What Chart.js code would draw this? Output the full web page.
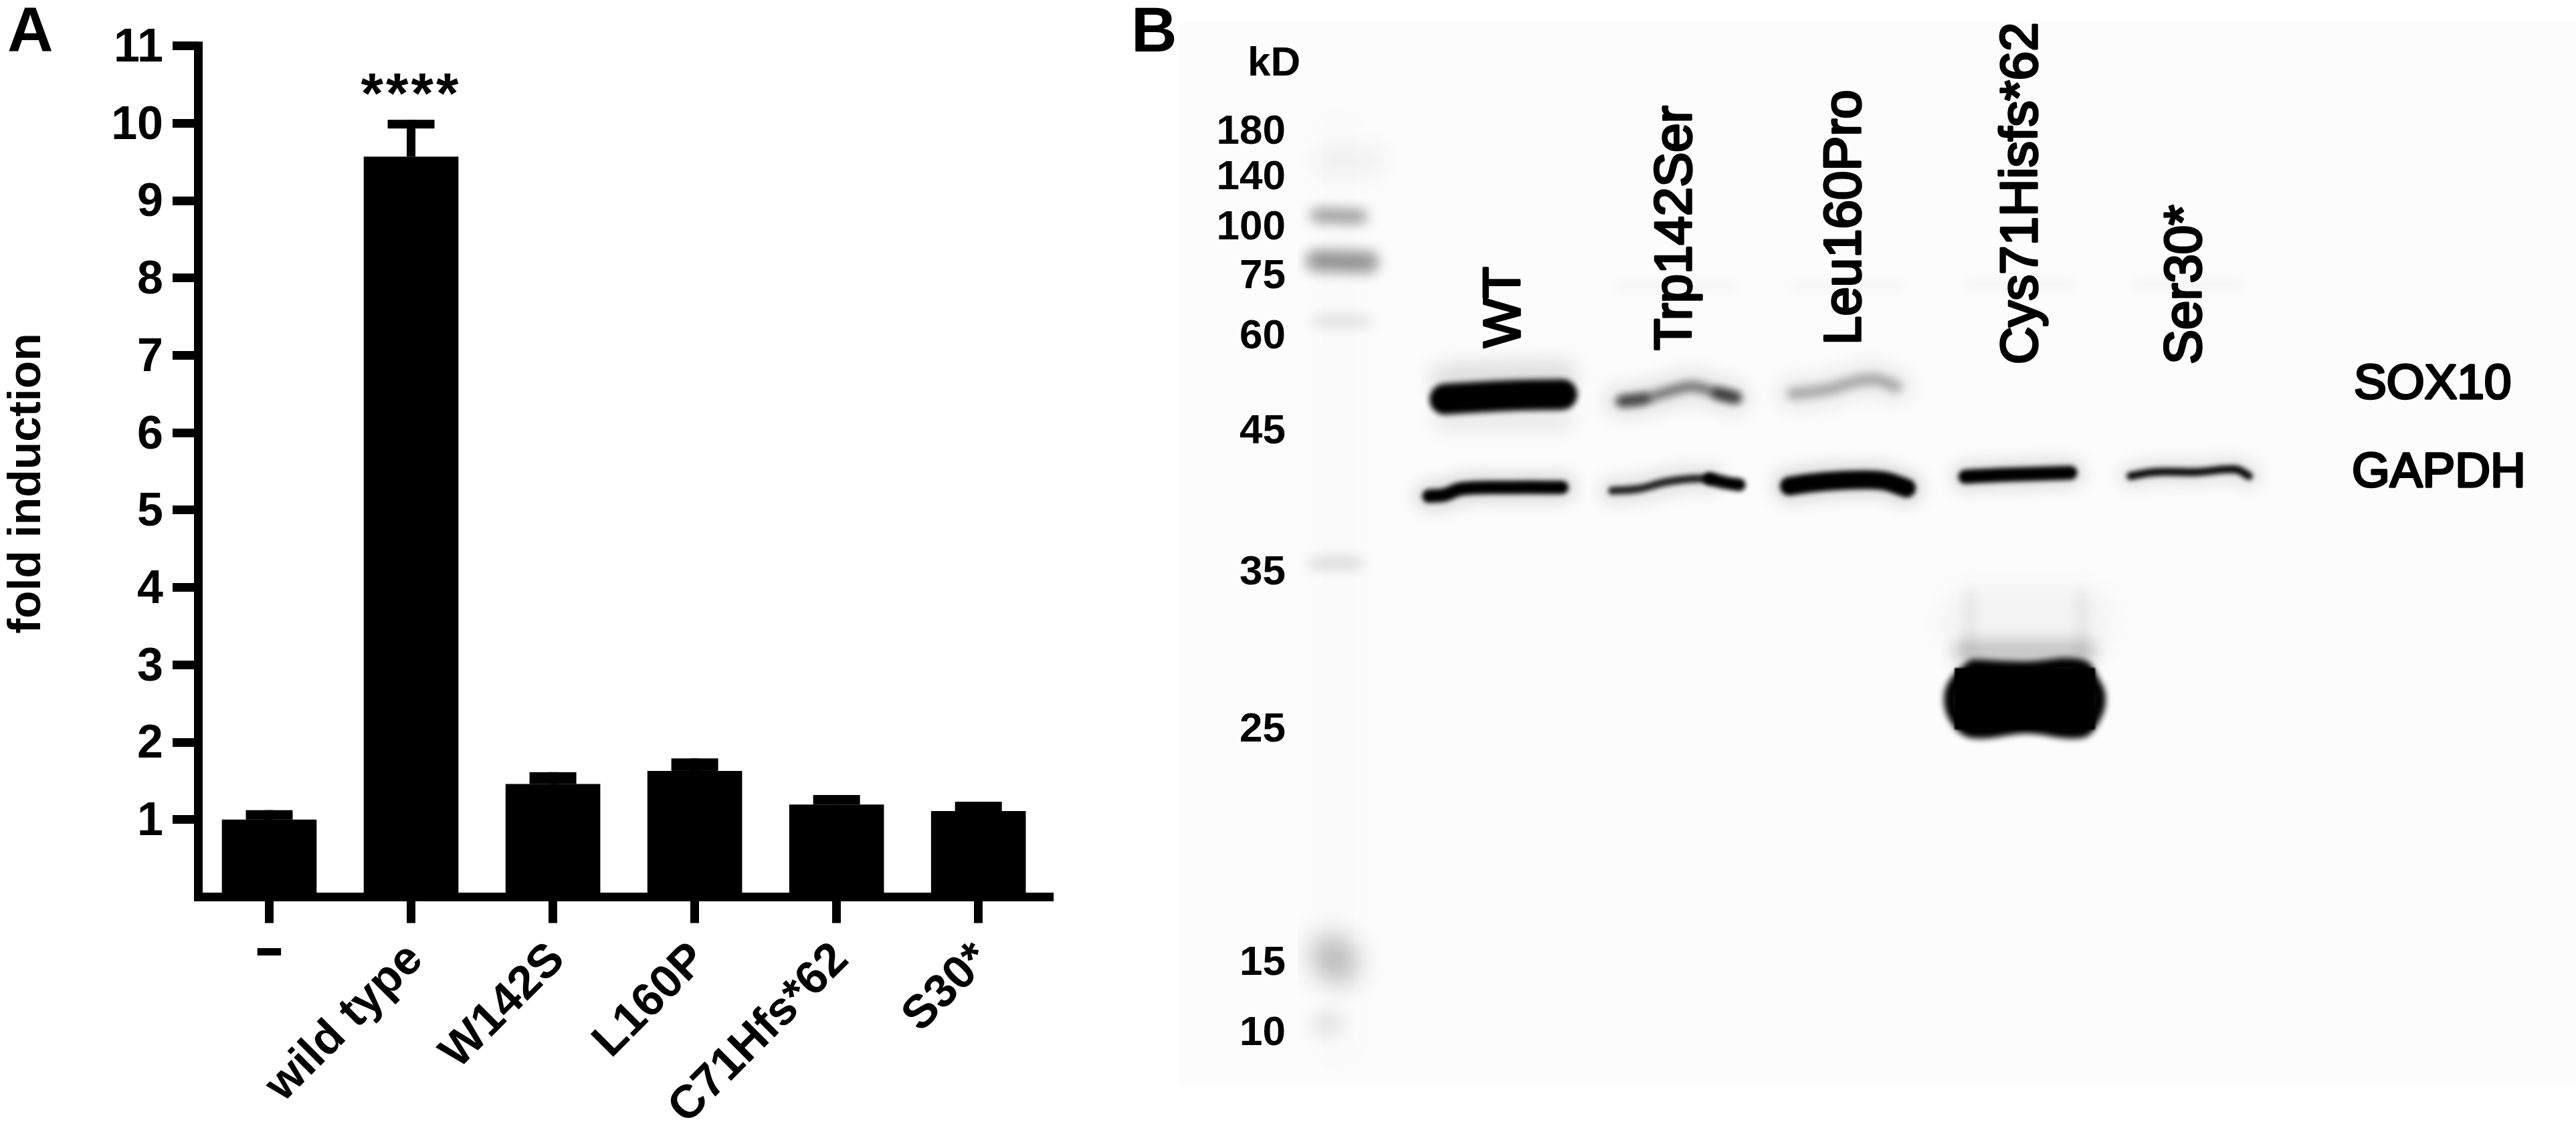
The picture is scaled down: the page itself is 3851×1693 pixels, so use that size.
<!DOCTYPE html>
<html>
<head>
<meta charset="utf-8">
<title>SOX10 reporter assay and western blot</title>
<script src="https://cdn.jsdelivr.net/npm/chart.js@4"></script>
<style>
  html, body { margin: 0; padding: 0; background: #fff; }
  #page { position: relative; width: 3851px; height: 1693px; overflow: hidden; }
  canvas { position: absolute; top: 0; }
  #chartA { left: 0; }
  #chartB { left: 1650px; }
  #blot { position: absolute; left: 1762px; top: 33px; width: 2089px; height: 1590px; background: #fcfcfc; }
</style>
</head>
<body>
<div id="page">
  <div id="blot"></div>
  <canvas id="chartA" width="1650" height="1693"></canvas>
  <canvas id="chartB" width="2201" height="1693"></canvas>
</div>
<script>
// panel A
const categories = ["-", "wild type", "W142S", "L160P", "C71Hfs*62", "S30*"];
const foldInduction = [1.0, 9.57, 1.46, 1.63, 1.195, 1.11];
const foldError = [0.066, 0.42, 0.097, 0.105, 0.067, 0.065];
const significance = ["", "****", "", "", "", ""];

// panel B, marker ladder: kD label and distance run down the blot
const kdLabels = ["180", "140", "100", "75", "60", "45", "35", "25", "15", "10"];
const kdDistance = [194, 262, 337, 410, 500, 642, 853, 1088, 1437, 1542];
const laneLabels = ["WT", "Trp142Ser", "Leu160Pro", "Cys71Hisfs*62", "Ser30*"];
const laneLabelX = [2272, 2528, 2781, 3045, 3290];
const laneLabelStart = [520, 524, 516, 545, 545];
const proteinLabels = ["SOX10", "GAPDH"];

// bands
const sox10WtX = [2160, 2250, 2335];
const sox10WtY = [597, 592, 590];
const sox10TrpX = [2422, 2455, 2500, 2530, 2560, 2592];
const sox10TrpY = [600, 597, 584, 578, 585, 594];
const sox10TrpLeftX = [2428, 2458];
const sox10TrpLeftY = [600, 596];
const sox10TrpRightX = [2568, 2596];
const sox10TrpRightY = [589, 595];
const sox10LeuX = [2680, 2730, 2765, 2800, 2835];
const sox10LeuY = [589, 583, 573, 567, 578];
const gapdhWtX = [2136, 2160, 2185, 2260, 2335];
const gapdhWtY = [742, 740, 731, 729, 729];
const gapdhTrpX = [2410, 2450, 2490, 2530, 2560];
const gapdhTrpY = [734, 731, 721, 716, 716];
const gapdhTrpEndX = [2555, 2580, 2600];
const gapdhTrpEndY = [716, 722, 725];
const gapdhLeuX = [2675, 2710, 2765, 2815, 2850];
const gapdhLeuY = [727, 722, 718, 719, 730];
const gapdhCysX = [2938, 3000, 3095];
const gapdhCysY = [713, 710, 707];
const gapdhSerX = [3185, 3222, 3285, 3342, 3362];
const gapdhSerY = [712, 706, 706, 702, 712];
// the truncated protein band is wide enough to be traced round its edge
const truncatedX = [2950, 3030, 3110, 3128, 3137, 3128, 3110, 3030, 2950, 2926, 2917, 2926, 2950];
const truncatedY = [997, 1000, 997, 1020, 1045, 1075, 1093, 1086, 1093, 1075, 1045, 1020, 997];
const truncatedCoreX = [2922, 3132];
const truncatedCoreY = [1045, 1045];
const truncatedSmearX = [2955, 3030, 3105];
const truncatedSmearY = [930, 930, 930];
const truncatedSideY = [880, 985];
const truncatedLeftX = [2945, 2945];
const truncatedRightX = [3112, 3112];
const ladder100X = [1968, 2035];
const ladder100Y = [322, 324];
const ladder75X = [1968, 2045];
const ladder75Y = [390, 392];
const ladder60X = [1970, 2042];
const ladder60Y = [480, 480];
const ladder35X = [1965, 2030];
const ladder35Y = [842, 842];
const ladder15X = [1990, 2000];
const ladder15Y = [1428, 1440];
const ladder10X = [1975, 1995];
const ladder10Y = [1532, 1530];
const ladderTopX = [1985, 2050];
const ladderTopY = [240, 240];
const ladderLaneX = [2000, 2000];
const ladderLaneY = [200, 1560];
const ghostX = [2420, 2590, 2680, 2840, 2940, 3100, 3190, 3350];
const ghostY = [428, 428, 428, 428, 425, 425, 425, 425];

const SANS = '"Liberation Sans", Arial, sans-serif';

function drawText(ctx, text, x, y, font, rotate, align, opts) {
  const { stroke = 0, scaleX = 1, spacing = "0px" } = opts || {};
  ctx.save();
  ctx.translate(x, y);
  ctx.rotate(rotate || 0);
  ctx.scale(scaleX, 1);
  ctx.font = font;
  ctx.letterSpacing = spacing;
  ctx.fillStyle = "#000";
  ctx.textAlign = align || "left";
  ctx.textBaseline = "alphabetic";
  ctx.fillText(text, 0, 0);
  if (stroke) {
    ctx.strokeStyle = "#000";
    ctx.lineWidth = stroke;
    ctx.lineJoin = "round";
    ctx.strokeText(text, 0, 0);
  }
  ctx.restore();
}

const errorBars = {
  id: "errorBars",
  afterDatasetsDraw(chart) {
    const { ctx, scales: { x, y } } = chart;
    const bars = chart.getDatasetMeta(0).data;
    ctx.save();
    ctx.fillStyle = "#000";
    foldError.forEach((err, i) => {
      const cx = bars[i].x;
      const base = y.getPixelForValue(foldInduction[i]);
      const top = y.getPixelForValue(foldInduction[i] + err) - 6.5;
      // stem, then cap; short whiskers close up into one block
      ctx.fillRect(cx - 6.5, top, 13, base - top);
      ctx.fillRect(cx - 35, top, 70, base - top < 26 ? base - top : 13);
    });
    // axis lines with squared corners
    ctx.strokeStyle = "#000";
    ctx.lineWidth = 13;
    ctx.lineCap = "square";
    ctx.beginPath();
    ctx.moveTo(x.left, y.getPixelForValue(11));
    ctx.lineTo(x.left, y.getPixelForValue(0));
    ctx.lineTo(x.right, y.getPixelForValue(0));
    ctx.stroke();
    ctx.restore();
  },
  afterDraw(chart) {
    const { ctx, scales: { x } } = chart;
    significance.forEach((mark, i) => {
      if (mark) drawText(ctx, mark, x.getPixelForTick(i), 169, "bold 86px " + SANS, 0, "center", { spacing: "4px" });
    });
    // the "-" label stays horizontal, the others are rotated
    drawText(ctx, categories[0], x.getPixelForTick(0), 1448, "bold 93px " + SANS, 0, "center", { scaleX: 1.5 });
    drawText(ctx, "fold induction", 60, 723, "bold 68px " + SANS, -Math.PI / 2, "center");
    drawText(ctx, "A", 11, 77, "bold 95px " + SANS);
  },
};

new Chart(document.getElementById("chartA"), {
  type: "bar",
  data: {
    labels: categories,
    datasets: [{
      data: foldInduction,
      backgroundColor: "#000",
      borderWidth: 0,
      categoryPercentage: 1,
      barPercentage: 0.668,
    }],
  },
  plugins: [errorBars],
  options: {
    responsive: false,
    devicePixelRatio: 1,
    animation: false,
    layout: { padding: { top: 68.8, right: 81.3, left: 0, bottom: 0 } },
    plugins: { legend: { display: false }, tooltip: { enabled: false } },
    scales: {
      x: {
        offset: true,
        border: { display: false },
        grid: {
          offset: false,
          drawOnChartArea: false,
          tickLength: 39,
          tickWidth: 13,
          tickColor: "#000",
        },
        ticks: {
          autoSkip: false,
          maxRotation: 45,
          minRotation: 45,
          padding: 14,
          labelOffset: 7,
          color: "#000",
          font: { family: SANS, weight: "bold", size: 70 },
          callback: (v, i) => (i === 0 ? "" : categories[i]),
        },
        afterFit(scale) {
          scale.height = 351.5;
          scale.paddingLeft = 0;
          scale.paddingRight = 0;
        },
      },
      y: {
        min: 0,
        max: 11,
        border: { display: false },
        grid: {
          drawOnChartArea: false,
          tickLength: 38.5,
          tickWidth: 13,
          tickColor: (c) => (c.tick && c.tick.value === 0 ? "rgba(0,0,0,0)" : "#000"),
        },
        ticks: {
          stepSize: 1,
          padding: 14,
          labelOffset: 4,
          color: "#000",
          font: { family: SANS, weight: "bold", size: 70 },
          callback: (v) => (v === 0 ? "" : v),
        },
        afterFit(scale) {
          scale.width = 296.5;
          scale.paddingTop = 0;
          scale.paddingBottom = 0;
        },
      },
    },
  },
});

// panel B: every band is a thick blurred line on the blot scales
function band(xs, ys, width, alpha, blur, cap) {
  return {
    data: xs.map((x, i) => ({ x, y: ys[i] })),
    borderColor: `rgba(0,0,0,${alpha})`,
    borderWidth: width,
    borderCapStyle: cap || "round",
    borderJoinStyle: "round",
    tension: 0.4,
    pointRadius: 0,
    blur,
  };
}

function ghost(i) {
  return band(ghostX.slice(i, i + 2), ghostY.slice(i, i + 2), 14, 0.03, 9);
}

const blotBands = [
  // cores first: Chart.js paints the list back to front, so they stay on top
  band(truncatedCoreX, truncatedCoreY, 92, 1, 1, "butt"),
  band(truncatedX, truncatedY, 22, 1, 5),
  band(sox10WtX, sox10WtY, 46, 1, 4),
  band(gapdhWtX, gapdhWtY, 20, 1, 3.5),
  band(gapdhLeuX, gapdhLeuY, 28, 1, 3.5),
  band(gapdhCysX, gapdhCysY, 21, 1, 3.5),
  band(gapdhSerX, gapdhSerY, 12, 0.95, 3.5),
  band(gapdhTrpEndX, gapdhTrpEndY, 19, 1, 3.5),
  band(gapdhTrpX, gapdhTrpY, 12, 0.85, 3.5),
  band(sox10TrpLeftX, sox10TrpLeftY, 18, 0.45, 6),
  band(sox10TrpRightX, sox10TrpRightY, 18, 0.55, 6),
  band(sox10TrpX, sox10TrpY, 16, 0.45, 6),
  band(sox10LeuX, sox10LeuY, 16, 0.3, 7),
  // halos round the bands
  band(sox10WtX, [568, 564, 562], 46, 0.12, 15),
  band(sox10WtX, [625, 625, 625], 40, 0.07, 14),
  band(sox10TrpX, sox10TrpY, 48, 0.1, 14),
  band(sox10LeuX, sox10LeuY, 48, 0.08, 14),
  band(gapdhWtX, gapdhWtY, 44, 0.13, 12),
  band(gapdhTrpX, gapdhTrpY, 40, 0.1, 12),
  band(gapdhLeuX, gapdhLeuY, 50, 0.14, 12),
  band(gapdhCysX, gapdhCysY, 42, 0.13, 12),
  band(gapdhSerX, gapdhSerY, 36, 0.1, 12),
  band(truncatedLeftX, truncatedSideY, 12, 0.09, 10, "butt"),
  band(truncatedRightX, truncatedSideY, 12, 0.09, 10, "butt"),
  band(truncatedCoreX, [975, 975], 30, 0.24, 13, "butt"),
  band(truncatedSmearX, truncatedSmearY, 110, 0.035, 18),
  // marker lane
  band(ladder100X, ladder100Y, 18, 0.46, 10),
  band(ladder75X, ladder75Y, 32, 0.42, 10),
  band(ladder60X, ladder60Y, 16, 0.13, 10),
  band(ladder35X, ladder35Y, 18, 0.14, 10),
  band(ladder15X, ladder15Y, 62, 0.27, 20),
  band(ladder10X, ladder10Y, 28, 0.13, 15),
  band(ladderTopX, ladderTopY, 50, 0.04, 16),
  band(ladderLaneX, ladderLaneY, 70, 0.008, 16),
  ghost(0), ghost(2), ghost(4), ghost(6),
];

const blotPlugin = {
  id: "blotPlugin",
  beforeDatasetDraw(chart, args) {
    chart.ctx.filter = `blur(${chart.data.datasets[args.index].blur}px)`;
  },
  afterDatasetDraw(chart) {
    chart.ctx.filter = "none";
  },
  afterDraw(chart) {
    const { ctx, scales: { x, y } } = chart;
    const left = 1650;
    laneLabels.forEach((label, i) => {
      drawText(ctx, label, x.getPixelForValue(laneLabelX[i]), y.getPixelForValue(laneLabelStart[i]),
        "78px " + SANS, -Math.PI / 2, "left", { stroke: 3.5 });
    });
    drawText(ctx, proteinLabels[0], x.getPixelForValue(3519), y.getPixelForValue(596), "73px " + SANS, 0, "left", { stroke: 3.5 });
    drawText(ctx, proteinLabels[1], x.getPixelForValue(3516), y.getPixelForValue(728), "73px " + SANS, 0, "left", { stroke: 3.5 });
    drawText(ctx, "kD", 1865 - left, 113, "bold 62px " + SANS);
    drawText(ctx, "B", 1691 - left, 77, "bold 95px " + SANS);
  },
};

new Chart(document.getElementById("chartB"), {
  type: "line",
  data: { datasets: blotBands },
  plugins: [blotPlugin],
  options: {
    responsive: false,
    devicePixelRatio: 1,
    animation: false,
    plugins: { legend: { display: false }, tooltip: { enabled: false } },
    scales: {
      x: { type: "linear", min: 1940, max: 3851, display: false },
      y: {
        type: "linear",
        reverse: true,
        min: 0,
        max: 1693,
        border: { display: false },
        grid: { display: false },
        afterBuildTicks(scale) {
          scale.ticks = kdDistance.map((value) => ({ value }));
        },
        ticks: {
          autoSkip: false,
          padding: 10,
          labelOffset: 4,
          color: "#000",
          font: { family: SANS, weight: "bold", size: 62 },
          callback: (v, i) => kdLabels[i],
        },
        afterFit(scale) {
          scale.width = 290;
          scale.paddingTop = 0;
          scale.paddingBottom = 0;
        },
      },
    },
  },
});
</script>
</body>
</html>
